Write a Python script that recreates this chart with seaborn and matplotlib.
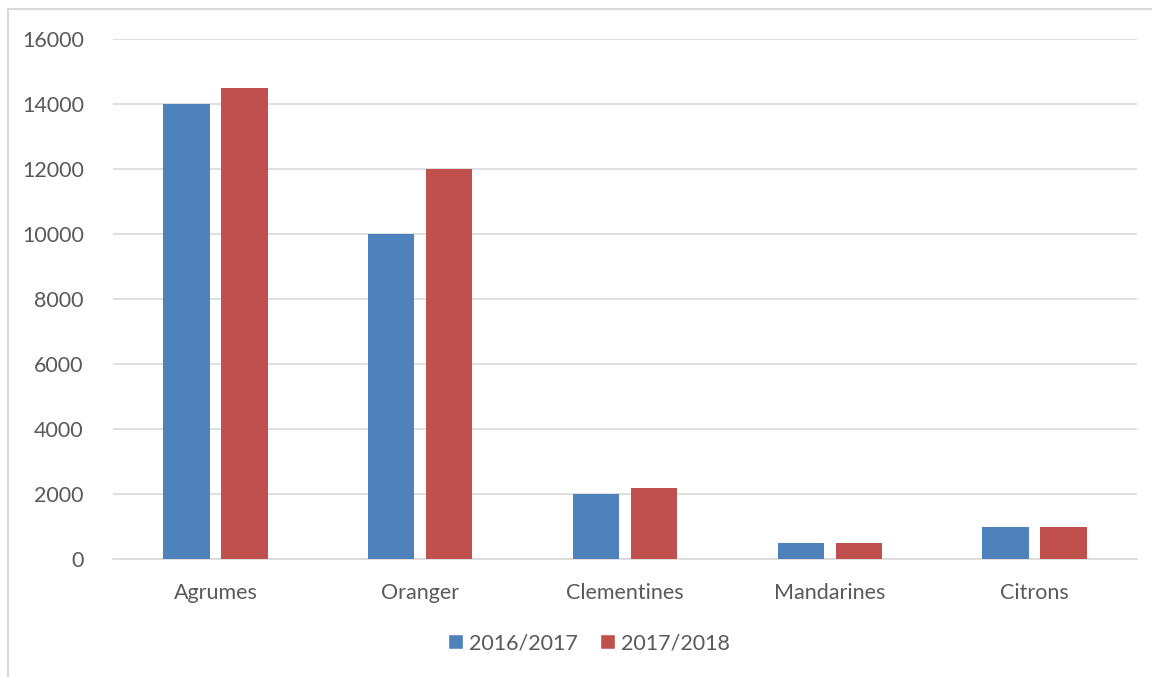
import pandas as pd
import matplotlib
matplotlib.use("Agg")
import matplotlib.pyplot as plt
import seaborn as sns
from matplotlib.patches import Rectangle, Patch

# data
categories = ["Agrumes", "Oranger", "Clementines", "Mandarines", "Citrons"]
seasons = ["2016/2017", "2017/2018"]
values_2016 = [14000, 10000, 2000, 500, 1000]
values_2017 = [14500, 12000, 2200, 500, 1000]
y_ticks = [0, 2000, 4000, 6000, 8000, 10000, 12000, 14000, 16000]

df = pd.DataFrame({
    "Categorie": categories * 2,
    "Saison": [seasons[0]] * len(categories) + [seasons[1]] * len(categories),
    "Valeur": values_2016 + values_2017,
})

sns.set_theme(style="white")
plt.rcParams["font.family"] = ["Lato", "DejaVu Sans"]

text_col = "#595959"
grid_col = "#D9D9D9"
palette = {"2016/2017": "#4F81BD", "2017/2018": "#C0504D"}

fig = plt.figure(figsize=(11.52, 6.77), dpi=100)
ax = fig.add_axes([113 / 1152, 1 - 559 / 677, 1024 / 1152, 520 / 677])

sns.barplot(data=df, x="Categorie", y="Valeur", hue="Saison", palette=palette,
            width=0.567, gap=0.2, saturation=1, linewidth=0, ax=ax,
            legend=False, zorder=3)

ax.set_xlim(-0.5, len(categories) - 0.5)
ax.set_ylim(0, 16000)
ax.set_yticks(y_ticks)
ax.set_yticklabels([str(t) for t in y_ticks])
ax.grid(axis="y", color=grid_col, linewidth=1.2, zorder=0)
ax.set_axisbelow(True)
for s in ["top", "right", "left"]:
    ax.spines[s].set_visible(False)
ax.spines["bottom"].set_color(grid_col)
ax.spines["bottom"].set_linewidth(1.2)
ax.set_xlabel("")
ax.set_ylabel("")
ax.tick_params(axis="both", length=0, labelsize=15.5, colors=text_col)
ax.tick_params(axis="x", pad=17)
ax.tick_params(axis="y", pad=21)

# chart frame
fig.patches.append(Rectangle((8 / 1152, -0.05), 1.1, 1 - 9 / 677 + 0.05,
                             transform=fig.transFigure, fill=False,
                             edgecolor="#D9D9D9", linewidth=1.5))

handles = [Patch(facecolor=palette[s], label=s) for s in seasons]
fig.legend(handles=handles, loc="center", bbox_to_anchor=(589 / 1152, 1 - 643 / 677),
           ncol=2, frameon=False, fontsize=15.5, handlelength=0.7, handleheight=0.7,
           handletextpad=0.3, columnspacing=1.0, labelcolor=text_col)

fig.savefig("out.png", dpi=100)
